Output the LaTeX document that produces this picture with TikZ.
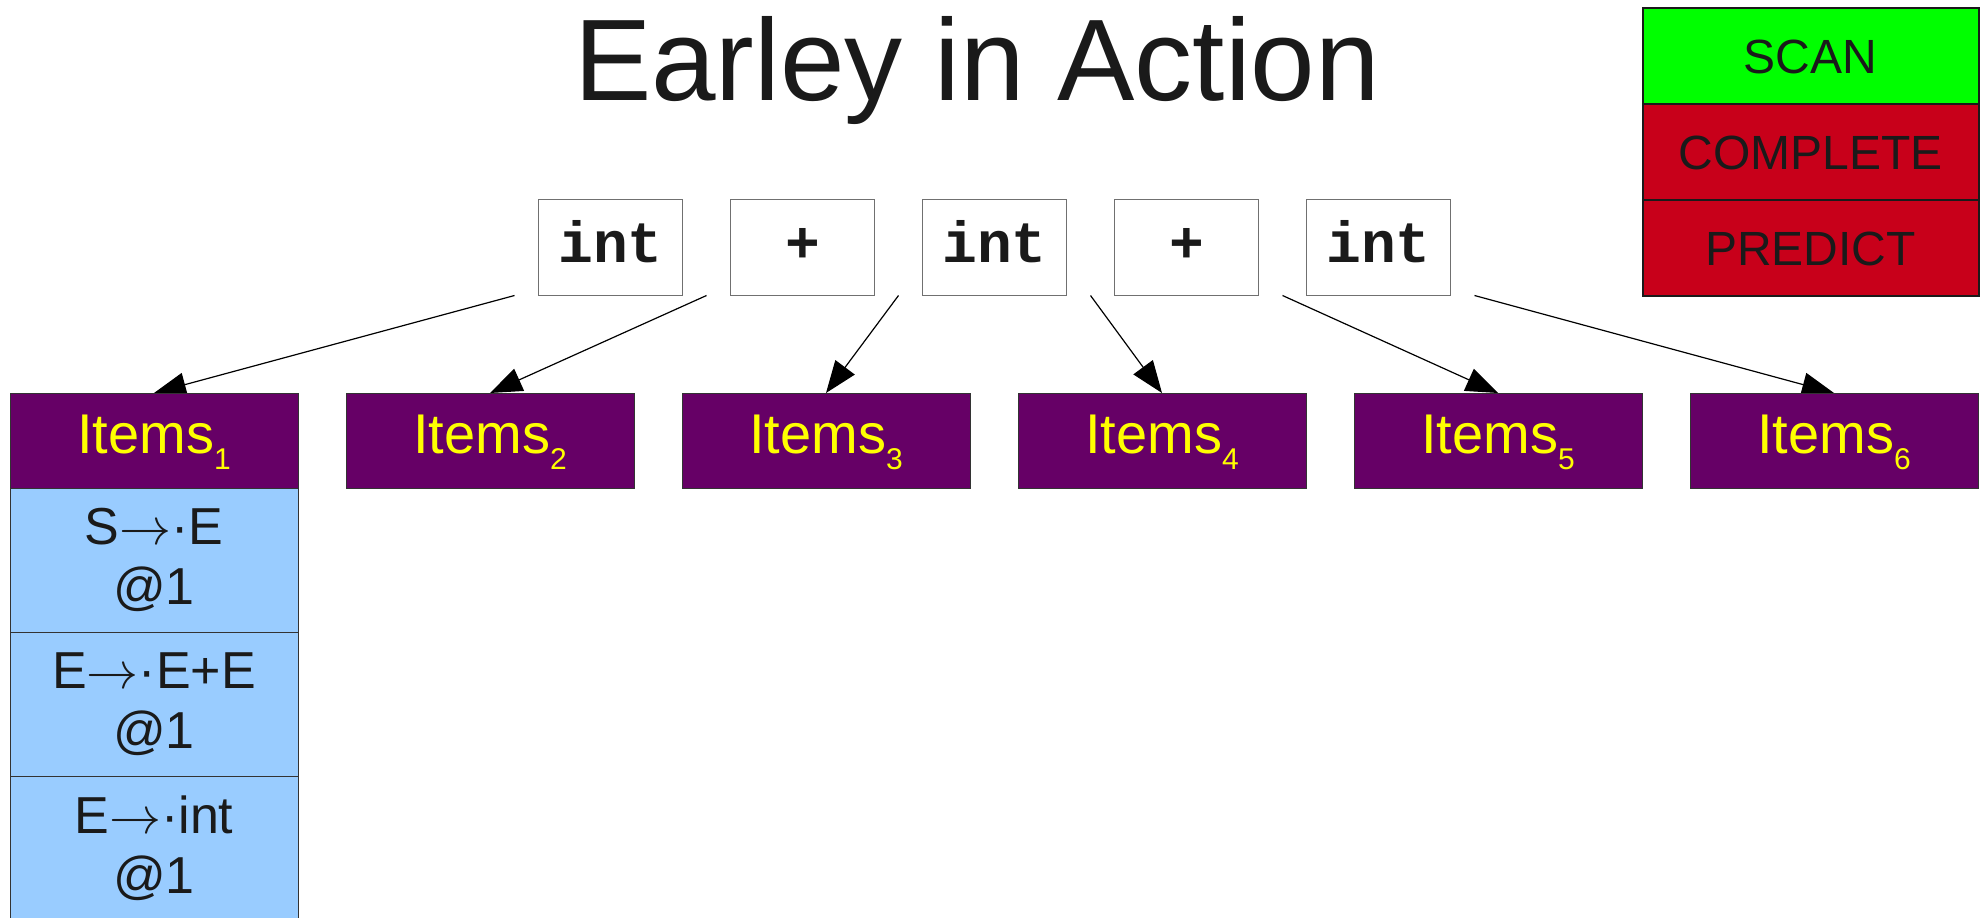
\RequirePackage{fix-cm}
\documentclass[tikz,border=0pt]{standalone}
\usepackage{fontspec}
\setmainfont{Liberation Sans}
\setmonofont{Liberation Mono}
\usetikzlibrary{arrows.meta,calc}
\definecolor{ink}{HTML}{1A1A1A}
\definecolor{tokgray}{HTML}{707070}
\definecolor{boxgray}{HTML}{333333}
\definecolor{itempurple}{HTML}{660066}
\definecolor{itemyellow}{HTML}{FFFF00}
\definecolor{ruleblue}{HTML}{99CCFF}
\definecolor{scangreen}{HTML}{00FF00}
\definecolor{actred}{HTML}{C8001A}
\newcommand{\rarr}{$\rightarrow$}
\begin{document}
\begin{tikzpicture}[x=1pt,y=-1pt,
  tok/.style={draw=tokgray, line width=1.5pt, fill=white, minimum width=144pt, minimum height=96pt,
    inner sep=0pt, outer sep=0pt, text=ink, font=\ttfamily\bfseries\fontsize{58}{58}\selectfont,
    text height=36pt, text depth=6pt},
  itemsbox/.style={draw=boxgray, line width=1pt, fill=itempurple, minimum width=288pt, minimum height=95pt,
    inner sep=0pt, outer sep=0pt, text=itemyellow, font=\fontsize{56}{56}\selectfont,
    text height=40pt, text depth=14pt},
  cell/.style={draw=boxgray, line width=1pt, fill=ruleblue, minimum width=288pt, minimum height=144pt,
    inner sep=0pt, outer sep=0pt, text=ink, align=center, font=\fontsize{52}{60}\selectfont},
  legendbox/.style={draw=ink, line width=2pt, minimum width=336pt, minimum height=96pt,
    inner sep=0pt, outer sep=0pt, text=ink, font=\fontsize{48}{48}\selectfont,
    text height=36pt, text depth=0pt},
  arr/.style={draw=black, line width=1.2pt, -{Triangle[length=32pt,width=24pt]}}
]
\useasboundingbox (0,0) rectangle (1986,918);
\clip (0,0) rectangle (1986,918);

% title
\node[font=\fontsize{116}{116}\selectfont, text=ink, anchor=base, inner sep=0pt] (title) at (977,100) {Earley in Action};

% legend
\node[legendbox, fill=scangreen] (scan) at (1810.5,55.5) {SCAN};
\node[legendbox, fill=actred] (complete) at (1810.5,151.5) {COMPLETE};
\node[legendbox, fill=actred] (predict) at (1810.5,247.5) {PREDICT};

% tokens
\node[tok] (t1) at (610.5,247.5) {int};
\node[tok] (t2) at (802.5,247.5) {+};
\node[tok] (t3) at (994.5,247.5) {int};
\node[tok] (t4) at (1186.5,247.5) {+};
\node[tok] (t5) at (1378.5,247.5) {int};

% gap positions
\coordinate (g0) at ($(t1.south west)+(-24,0)$);
\coordinate (g1) at ($(t1.south east)!0.5!(t2.south west)$);
\coordinate (g2) at ($(t2.south east)!0.5!(t3.south west)$);
\coordinate (g3) at ($(t3.south east)!0.5!(t4.south west)$);
\coordinate (g4) at ($(t4.south east)!0.5!(t5.south west)$);
\coordinate (g5) at ($(t5.south east)+(24,0)$);

% item set headers (positions)
\foreach \i in {1,...,6} {
  \coordinate (ic\i) at ({154+336*(\i-1)},440.5);
}

% arrows drawn first so that the headers cover the tips
\draw[arr] (g0) -- ($(ic1)+(0,-47.5)$);
\draw[arr] (g1) -- ($(ic2)+(0,-47.5)$);
\draw[arr] (g2) -- ($(ic3)+(0,-47.5)$);
\draw[arr] (g3) -- ($(ic4)+(0,-47.5)$);
\draw[arr] (g4) -- ($(ic5)+(0,-47.5)$);
\draw[arr] (g5) -- ($(ic6)+(0,-47.5)$);

\foreach \i in {1,...,6} {
  \node[itemsbox] (items\i) at (ic\i)
    {Items\raisebox{-16pt}{\fontsize{30}{30}\selectfont \i}};
}

% items in set 1
\node[cell] (r1) at (154,560) {S\rarr·E\\@1};
\node[cell] (r2) at (154,704) {E\rarr·E+E\\@1};
\node[cell] (r3) at (154,848) {E\rarr·int\\@1};
\end{tikzpicture}
\end{document}
